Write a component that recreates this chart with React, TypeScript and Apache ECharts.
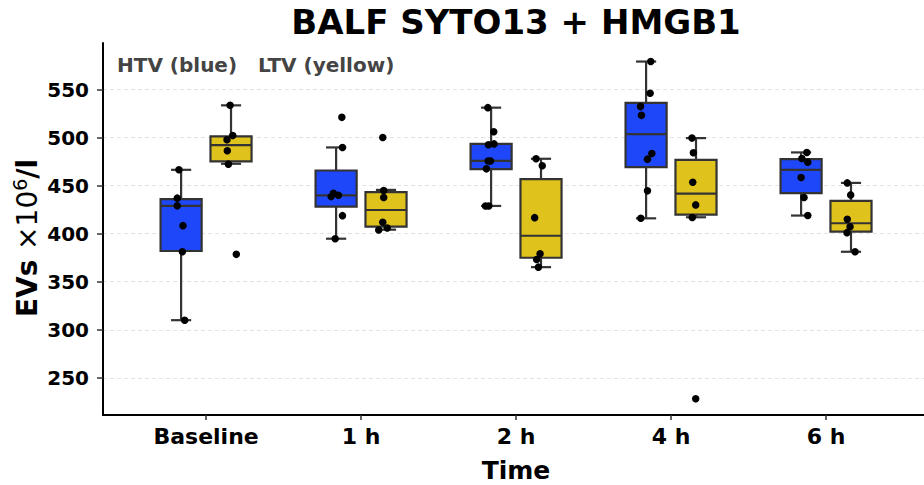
import React, { useEffect, useRef } from 'react';
import * as echarts from 'echarts';

const categories = ['Baseline', '1 h', '2 h', '4 h', '6 h'];
const yTicks = [250, 300, 350, 400, 450, 500, 550];

// box stats per time point: [lower whisker, Q1, median, Q3, upper whisker]
const htvStats = [
  [310, 382, 429, 436, 466.5],
  [394.8, 428.2, 440, 465.8, 489.8],
  [428.9, 467.2, 475.9, 493.6, 531.2],
  [416, 469.3, 503.7, 536.1, 579.2],
  [418.9, 442.2, 466.5, 477.7, 484.6],
];
const ltvStats = [
  [472.8, 475.2, 492.3, 501.3, 533.6],
  [404.2, 407.3, 424.7, 443.2, 445.6],
  [365.2, 375, 397.9, 456.8, 478],
  [417.1, 419.9, 441.8, 476.9, 499.5],
  [381.2, 402.1, 410.9, 434.1, 452.9],
];

// individual observations
const htvPoints = [
  [466.5, 437, 429, 408.4, 381.2, 310],
  [521.1, 489.8, 442, 440, 438.6, 418.8, 394.8],
  [531.2, 506.2, 493.5, 492.6, 475.6, 475.6, 467.5, 428.9, 428.9],
  [579.2, 546.2, 532.3, 523.2, 483.5, 477.6, 444.6, 416],
  [484.6, 478.3, 474.5, 458.5, 437.6, 418.9],
];
const ltvPoints = [
  [533.6, 502.3, 497.8, 486.3, 472.4, 378.5],
  [500.2, 444.9, 437.6, 411.9, 406, 403.9],
  [478, 470.7, 416.7, 379.1, 373.2, 365.2],
  [499.5, 484.2, 453.6, 430, 416.8, 228.2],
  [452.9, 440.4, 415, 407.3, 401.1, 381.2],
];
// strip-plot jitter (fraction of a category) as seen in the picture
const htvJitter = [
  [-0.014, -0.025, -0.025, 0.012, 0.008, 0.023],
  [0.037, 0.041, -0.017, 0.015, -0.032, 0.041, -0.006],
  [-0.021, 0.017, 0.019, -0.017, -0.019, -0.004, -0.03, -0.036, -0.015],
  [0.03, 0.026, -0.036, -0.03, 0.037, 0.009, 0.009, -0.034],
  [0.037, 0.005, 0.043, 0, 0.019, 0.043],
];
const ltvJitter = [
  [-0.006, 0.011, -0.026, -0.024, -0.017, 0.034],
  [-0.021, -0.015, -0.015, -0.021, 0.008, -0.047],
  [-0.032, 0.008, -0.041, -0.006, -0.028, -0.017],
  [-0.026, -0.017, -0.021, -0.002, -0.024, -0.002],
  [-0.024, -0.002, -0.024, -0.006, -0.026, 0.026],
];

const FONT = 'DejaVu Sans';
const GROUP_OFFSET = 0.161;
const BOX_W = 0.265;
const CAP_W = 0.13;
const BLUE = '#1f47fa';
const YELLOW = '#e0c21c';
const EDGE = '#333333';

function boxData(stats: number[][], off: number) {
  return stats.map((s, i) => [i + off, ...s]);
}
function pointData(pts: number[][], jit: number[][], off: number) {
  const out: number[][] = [];
  pts.forEach((arr, i) => arr.forEach((v, j) => out.push([i + off + jit[i][j], v])));
  return out;
}

function renderBox(fill: string) {
  return (params: any, api: any) => {
    const x = api.value(0);
    const lo = api.value(1), q1 = api.value(2), med = api.value(3), q3 = api.value(4), hi = api.value(5);
    const h = BOX_W / 2, c = CAP_W / 2;
    const pTL = api.coord([x - h, q3]);
    const pBR = api.coord([x + h, q1]);
    const pMedL = api.coord([x - h, med]);
    const pMedR = api.coord([x + h, med]);
    const pHi = api.coord([x, hi]);
    const pLo = api.coord([x, lo]);
    const pQ3 = api.coord([x, q3]);
    const pQ1 = api.coord([x, q1]);
    const capHiL = api.coord([x - c, hi]);
    const capHiR = api.coord([x + c, hi]);
    const capLoL = api.coord([x - c, lo]);
    const capLoR = api.coord([x + c, lo]);
    const ls = { stroke: EDGE, lineWidth: 2.2 };
    return {
      type: 'group',
      children: [
        { type: 'line', shape: { x1: pHi[0], y1: pHi[1], x2: pQ3[0], y2: pQ3[1] }, style: ls },
        { type: 'line', shape: { x1: pQ1[0], y1: pQ1[1], x2: pLo[0], y2: pLo[1] }, style: ls },
        { type: 'line', shape: { x1: capHiL[0], y1: capHiL[1], x2: capHiR[0], y2: capHiR[1] }, style: ls },
        { type: 'line', shape: { x1: capLoL[0], y1: capLoL[1], x2: capLoR[0], y2: capLoR[1] }, style: ls },
        {
          type: 'rect',
          shape: { x: pTL[0], y: pTL[1], width: pBR[0] - pTL[0], height: pBR[1] - pTL[1] },
          style: { fill, stroke: EDGE, lineWidth: 2.2 },
        },
        { type: 'line', shape: { x1: pMedL[0], y1: pMedL[1], x2: pMedR[0], y2: pMedR[1] }, style: { stroke: EDGE, lineWidth: 2.2 } },
      ],
    };
  };
}

export default function App() {
  const ref = useRef<HTMLDivElement>(null);
  useEffect(() => {
    const chart = echarts.init(ref.current!, null, { renderer: 'svg' });
    const option: any = {
      animation: false,
      backgroundColor: '#ffffff',
      grid: { left: 103, right: 0, top: 43, bottom: 70 },
      xAxis: {
        type: 'value',
        min: -0.665,
        max: 4.632,
        axisLine: { onZero: false, lineStyle: { color: '#000', width: 2 } },
        axisTick: { show: true, length: 5, customValues: [0, 1, 2, 3, 4], lineStyle: { color: '#333', width: 1.5 } },
        axisLabel: {
          customValues: [0, 1, 2, 3, 4],
          formatter: (v: number) => categories[Math.round(v)],
          fontFamily: FONT,
          fontWeight: 'bold',
          fontSize: 22,
          color: '#000',
          margin: 10,
        },
        splitLine: { show: false },
      },
      yAxis: {
        type: 'value',
        min: 211.3,
        max: 598.5,
        axisLine: { show: true, onZero: false, lineStyle: { color: '#000', width: 2 } },
        axisTick: { show: true, length: 6, customValues: yTicks, lineStyle: { color: '#333', width: 1.5 } },
        axisLabel: {
          customValues: yTicks,
          fontFamily: FONT,
          fontWeight: 'bold',
          fontSize: 20,
          color: '#000',
          margin: 14,
        },
        splitLine: { show: true, lineStyle: { color: '#e3e3e3', width: 1, type: [4, 3] } },
      },
      series: [
        { type: 'custom', name: 'HTV', renderItem: renderBox(BLUE), data: boxData(htvStats, -GROUP_OFFSET), encode: { x: 0, y: [1, 5] }, z: 2 },
        { type: 'custom', name: 'LTV', renderItem: renderBox(YELLOW), data: boxData(ltvStats, GROUP_OFFSET), encode: { x: 0, y: [1, 5] }, z: 2 },
        { type: 'scatter', data: pointData(htvPoints, htvJitter, -GROUP_OFFSET), symbolSize: 7.5, itemStyle: { color: '#000', opacity: 1 }, z: 5 },
        { type: 'scatter', data: pointData(ltvPoints, ltvJitter, GROUP_OFFSET), symbolSize: 7.5, itemStyle: { color: '#000', opacity: 1 }, z: 5 },
      ],
      graphic: [
        {
          type: 'text', x: 516, y: 22,
          style: { text: 'BALF SYTO13 + HMGB1', fontFamily: FONT, fontWeight: 'bold', fontSize: 34, fill: '#000', align: 'center', verticalAlign: 'middle' },
        },
        {
          type: 'text', x: 117, y: 65,
          style: { text: 'HTV (blue)   LTV (yellow)', fontFamily: FONT, fontWeight: 'bold', fontSize: 20, fill: '#444', align: 'left', verticalAlign: 'middle' },
        },
        {
          type: 'text', x: 516, y: 470,
          style: { text: 'Time', fontFamily: FONT, fontWeight: 'bold', fontSize: 25, fill: '#000', align: 'center', verticalAlign: 'middle' },
        },
        {
          type: 'text', x: 27, y: 238, rotation: Math.PI / 2,
          style: {
            text: '{b|EVs }{m|×10}{s|6}{b|/l}',
            align: 'center', verticalAlign: 'middle',
            rich: {
              b: { fontFamily: FONT, fontWeight: 'bold', fontSize: 28, fill: '#000', lineHeight: 34 },
              m: { fontFamily: FONT, fontWeight: 'normal', fontSize: 28, fill: '#000', lineHeight: 34 },
              s: { fontFamily: FONT, fontWeight: 'normal', fontSize: 19, fill: '#000', lineHeight: 34, verticalAlign: 'top' },
            },
          },
        },
      ],
    };
    chart.setOption(option);
    return () => chart.dispose();
  }, []);
  return <div ref={ref} style={{ position: 'absolute', left: 0, top: 0, width: 924, height: 485 }} />;
}
